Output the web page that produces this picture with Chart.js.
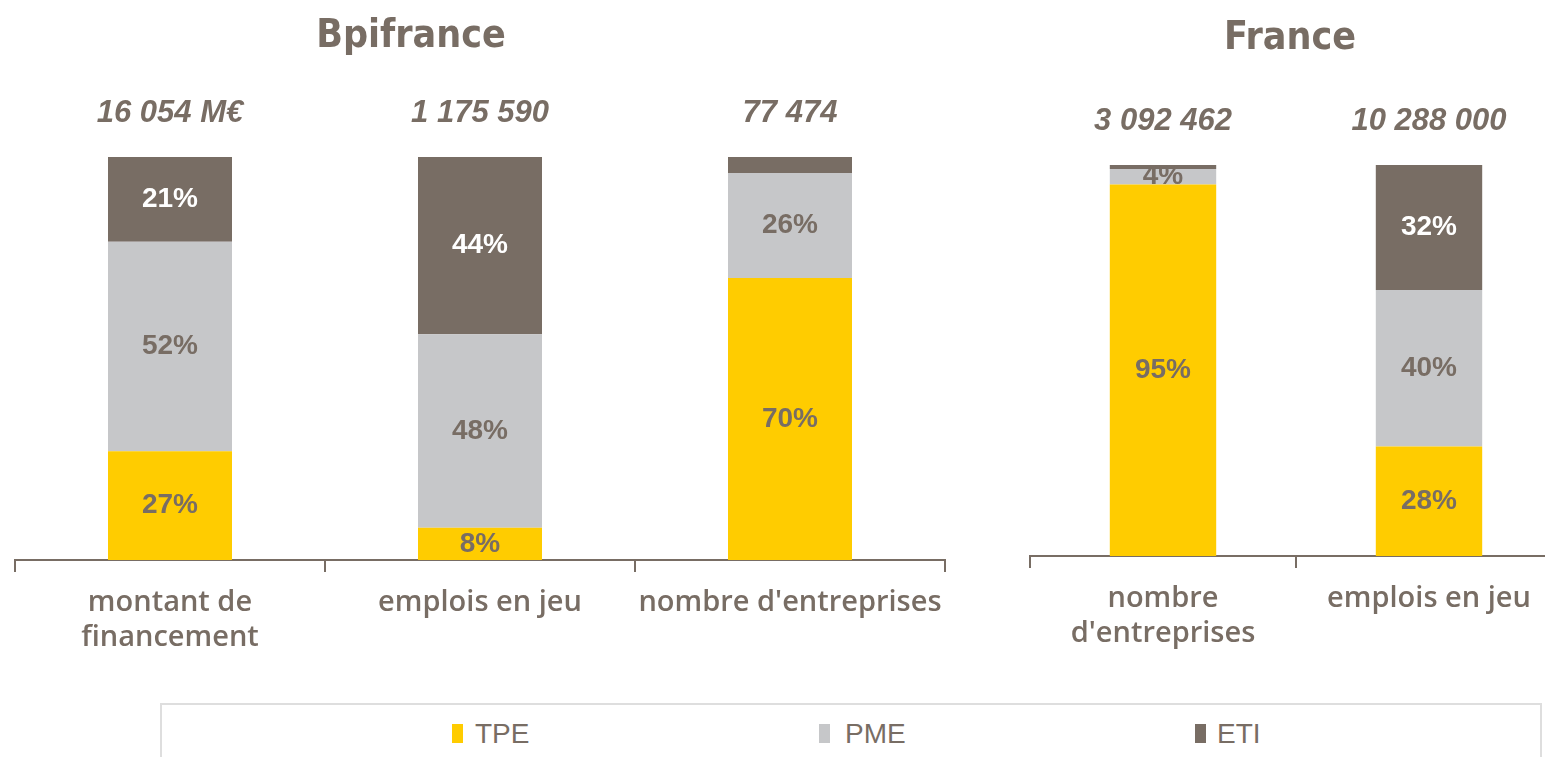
<!DOCTYPE html>
<html>
<head>
<meta charset="utf-8">
<script src="https://cdn.jsdelivr.net/npm/chart.js@4"></script>
<style>
  body { margin: 0; width: 1545px; height: 757px; overflow: hidden; background: #fff; position: relative; }
  #left { position: absolute; left: 0; top: 0; }
  #right { position: absolute; left: 1000px; top: 0; }
  .legend { position: absolute; left: 160px; top: 703px; width: 1378px; height: 60px;
            border: 2px solid #dedede; border-bottom: none; }
  .legend span { position: absolute; top: 13px; font: 28px "Liberation Sans", Arial, sans-serif; color: #786d64; }
  .legend i { position: absolute; top: 19px; width: 11px; height: 19px; }
</style>
</head>
<body>
<canvas id="left" width="960" height="700"></canvas>
<canvas id="right" width="580" height="700"></canvas>
<div class="legend">
  <i style="left:290px;background:#ffcc00"></i><span style="left:313px">TPE</span>
  <i style="left:657px;background:#c6c7c9"></i><span style="left:683px">PME</span>
  <i style="left:1033px;background:#786d64"></i><span style="left:1055px">ETI</span>
</div>
<script>
// données
const bpiCategories = [['montant de', 'financement'], 'emplois en jeu', "nombre d'entreprises"];
const bpiTPE = [27, 8, 70];
const bpiPME = [52, 48, 26];
const bpiETI = [21, 44, 4];
const bpiTotals = ['16 054 M€', '1 175 590', '77 474'];

const frCategories = [['nombre', "d'entreprises"], 'emplois en jeu'];
const frTPE = [95, 28];
const frPME = [4, 40];
const frETI = [1, 32];
const frTotals = ['3 092 462', '10 288 000'];

const textColor = '#786d64';
const colors = { TPE: '#ffcc00', PME: '#c6c7c9', ETI: '#786d64' };

// étiquettes dans les barres + totaux + titre
const barLabels = {
  id: 'barLabels',
  afterDatasetsDraw(chart, args, opts) {
    const ctx = chart.ctx;
    ctx.save();
    ctx.textAlign = 'center';
    ctx.textBaseline = 'middle';
    chart.data.datasets.forEach((ds, i) => {
      const meta = chart.getDatasetMeta(i);
      meta.data.forEach((bar, j) => {
        const v = ds.data[j];
        if (v < ds.minLabel) return;
        ctx.fillStyle = ds.labelColor;
        ctx.font = 'bold 28px "Liberation Sans", Arial, sans-serif';
        ctx.fillText(v + '%', bar.x, (bar.y + bar.base) / 2);
      });
    });
    ctx.fillStyle = textColor;
    ctx.font = 'italic bold 31px "Liberation Sans", Arial, sans-serif';
    opts.totals.forEach((t, j) => {
      ctx.fillText(t, chart.scales.x.getPixelForValue(j), chart.chartArea.top - opts.totalsGap);
    });
    ctx.font = 'bold 39px "Liberation Sans Narrow", "DejaVu Sans Condensed", Arial, sans-serif';
    ctx.fillText(opts.title, opts.titleX, opts.titleY);
    ctx.restore();
  }
};

function makeDatasets(tpe, pme, eti) {
  return [
    { label: 'TPE', data: tpe, backgroundColor: colors.TPE, labelColor: textColor, minLabel: 0 },
    { label: 'PME', data: pme, backgroundColor: colors.PME, labelColor: textColor, minLabel: 0 },
    { label: 'ETI', data: eti, backgroundColor: colors.ETI, labelColor: '#ffffff', minLabel: 5 }
  ];
}

function makeChart(id, labels, datasets, totals, title, titleX, titleY, padding, axisHeight) {
  return new Chart(document.getElementById(id), {
    type: 'bar',
    data: { labels: labels, datasets: datasets },
    plugins: [barLabels],
    options: {
      responsive: false,
      animation: false,
      layout: { padding: padding },
      datasets: { bar: { categoryPercentage: 1, barPercentage: 0.4, borderWidth: 0 } },
      scales: {
        x: {
          stacked: true,
          afterFit: (scale) => { scale.height = axisHeight; },
          border: { display: true, color: textColor, width: 2 },
          grid: { display: true, offset: true, drawOnChartArea: false, drawTicks: true, tickLength: 12, color: textColor, lineWidth: 2 },
          ticks: { color: textColor, padding: 13, maxRotation: 0, autoSkip: false,
                   font: { family: '"Open Sans", sans-serif', size: 29, weight: '600', lineHeight: 1.22 } }
        },
        y: { stacked: true, display: false, min: 0, max: 100 }
      },
      plugins: {
        legend: { display: false },
        tooltip: { enabled: false },
        barLabels: { totals: totals, totalsGap: 44, title: title, titleX: titleX, titleY: titleY }
      }
    }
  });
}

makeChart('left', bpiCategories, makeDatasets(bpiTPE, bpiPME, bpiETI), bpiTotals,
  'Bpifrance', 411, 37, { left: 15, right: 15, top: 157, bottom: 0 }, 140);
makeChart('right', frCategories, makeDatasets(frTPE, frPME, frETI), frTotals,
  'France', 290, 39, { left: 30, right: 18, top: 165, bottom: 0 }, 144);
</script>
</body>
</html>
